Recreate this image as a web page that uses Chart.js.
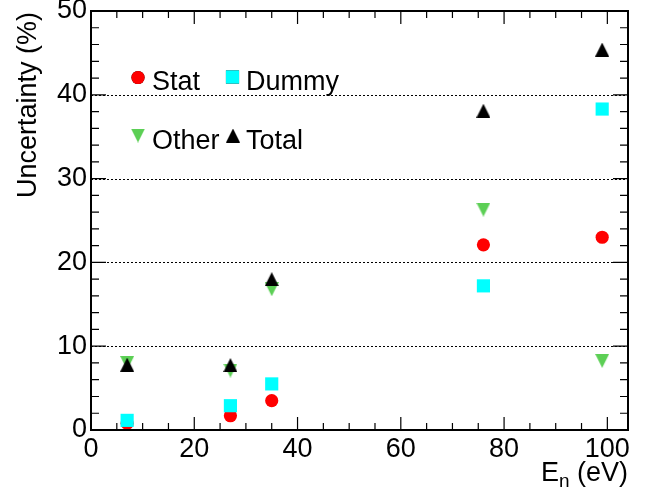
<!DOCTYPE html>
<html lang="en">
<head>
    <meta charset="UTF-8">
    <title>Uncertainty vs En</title>
    <script src="https://cdn.jsdelivr.net/npm/chart.js"></script>
    <style>
        body { margin: 0; background: #fff; }
        canvas { display: block; }
    </style>
</head>
<body>
    <canvas id="unc-chart" width="652" height="493"></canvas>

    <script>
        // values
        const energies = [7, 27, 35, 76, 99];
        const statUnc  = [0.8, 1.7, 3.5, 22.1, 23.0];
        const dummyUnc = [1.15, 2.9, 5.5, 17.2, 38.3];
        const otherUnc = [8.0, 7.1, 16.8, 26.3, 8.25];
        const totalUnc = [7.8, 7.75, 18.0, 38.1, 45.4];

        const xTickLabels = [0, 20, 40, 60, 80, 100];
        const yTickLabels = [0, 10, 20, 30, 40, 50];
        const seriesNames = ['Stat', 'Dummy', 'Other', 'Total'];

        const FONT = '27px "Liberation Sans", Arial, sans-serif';

        function pts(ys) {
            return energies.map((x, i) => ({ x: x, y: ys[i] }));
        }

        // ROOT triangles are a bit taller than equilateral, so build them as images
        function triangleImage(color, down) {
            const c = document.createElement('canvas');
            c.width = 14;
            c.height = 14;
            const g = c.getContext('2d');
            g.fillStyle = color;
            g.beginPath();
            if (down) {
                g.moveTo(0, 0); g.lineTo(14, 0); g.lineTo(7, 14);
            } else {
                g.moveTo(0, 14); g.lineTo(14, 14); g.lineTo(7, 0);
            }
            g.closePath();
            g.fill();
            return c;
        }

        const markers = {
            Stat:  { color: '#ff0000', pointStyle: 'circle', radius: 6.6 },
            Dummy: { color: '#00ffff', pointStyle: 'rect',   radius: 9.3 },
            Other: { color: '#5ccf55', pointStyle: triangleImage('#5ccf55', true),  radius: 7 },
            Total: { color: '#000000', pointStyle: triangleImage('#000000', false), radius: 7 }
        };

        function makeSet(name, ys, order) {
            const m = markers[name];
            return {
                label: name,
                data: pts(ys),
                order: order,
                pointStyle: m.pointStyle,
                pointRadius: m.radius,
                pointHoverRadius: m.radius,
                backgroundColor: m.color,
                borderColor: m.color,
                borderWidth: 0,
                showLine: false
            };
        }

        function drawMarker(ctx, name, x, y) {
            const m = markers[name];
            if (typeof m.pointStyle !== 'string') {
                const img = m.pointStyle;
                ctx.drawImage(img, x - img.width / 2, y - img.height / 2);
                return;
            }
            Chart.helpers.drawPoint(ctx, {
                pointStyle: m.pointStyle,
                radius: m.radius,
                rotation: 0,
                borderWidth: 0
            }, x, y);
            ctx.fillStyle = m.color;
            ctx.fill();
        }

        const rootStyle = {
            id: 'rootStyle',
            beforeDatasetsDraw(chart) {
                const ctx = chart.ctx;
                const area = chart.chartArea;
                const ys = chart.scales.y;
                // dotted horizontal grid
                ctx.save();
                ctx.strokeStyle = '#000';
                ctx.lineWidth = 1;
                ctx.setLineDash([2, 2]);
                yTickLabels.forEach(v => {
                    if (v === 0 || v === 50) return;
                    const py = Math.round(ys.getPixelForValue(v)) + 0.5;
                    ctx.beginPath();
                    ctx.moveTo(area.left, py);
                    ctx.lineTo(area.right, py);
                    ctx.stroke();
                });
                ctx.restore();
            },
            afterDraw(chart) {
                const ctx = chart.ctx;
                const area = chart.chartArea;
                const xs = chart.scales.x;
                const ys = chart.scales.y;
                ctx.save();
                ctx.strokeStyle = '#000';
                ctx.lineWidth = 1.2;
                ctx.setLineDash([]);

                // y ticks, left and right, pointing in
                for (let v = 0; v <= 50; v += 2) {
                    const py = ys.getPixelForValue(v);
                    const len = v % 10 === 0 ? 15 : 8;
                    ctx.beginPath();
                    ctx.moveTo(area.left, py); ctx.lineTo(area.left + len, py);
                    ctx.moveTo(area.right, py); ctx.lineTo(area.right - len, py);
                    ctx.stroke();
                }
                // x ticks, bottom and top
                for (let v = 0; v <= 104; v += 5) {
                    const px = xs.getPixelForValue(v);
                    const len = v % 20 === 0 ? 13 : 7;
                    ctx.beginPath();
                    ctx.moveTo(px, area.bottom); ctx.lineTo(px, area.bottom - len);
                    ctx.moveTo(px, area.top); ctx.lineTo(px, area.top + len);
                    ctx.stroke();
                }

                // frame
                ctx.lineWidth = 2;
                ctx.strokeRect(area.left, area.top, area.right - area.left, area.bottom - area.top);

                // axis titles
                ctx.fillStyle = '#000';
                ctx.font = FONT;
                ctx.save();
                ctx.translate(29, area.top + 1);
                ctx.rotate(-Math.PI / 2);
                ctx.textAlign = 'right';
                ctx.textBaseline = 'middle';
                ctx.fillText('Uncertainty (%)', 0, 0);
                ctx.restore();

                // E_n (eV), right aligned
                const subFont = '19px "Liberation Sans", Arial, sans-serif';
                ctx.textBaseline = 'alphabetic';
                ctx.textAlign = 'left';
                const wE = ctx.measureText('E').width;
                const wRest = ctx.measureText(' (eV)').width;
                ctx.font = subFont;
                const wN = ctx.measureText('n').width;
                const base = 481;
                const x0 = area.right - wE - wN - wRest;
                ctx.font = FONT;
                ctx.fillText('E', x0, base);
                ctx.font = subFont;
                ctx.fillText('n', x0 + wE, base + 6);
                ctx.font = FONT;
                ctx.fillText(' (eV)', x0 + wE + wN, base);

                // legend
                const legendPos = [
                    { mx: 138, my: 77.5, tx: 152, ty: 89.5 },
                    { mx: 232.5, my: 77, tx: 246, ty: 89.5 },
                    { mx: 138, my: 135.5, tx: 152, ty: 148.5 },
                    { mx: 233, my: 135.5, tx: 246, ty: 148.5 }
                ];
                seriesNames.forEach((name, i) => {
                    const p = legendPos[i];
                    drawMarker(ctx, name, p.mx, p.my);
                    ctx.fillStyle = '#000';
                    ctx.font = FONT;
                    ctx.fillText(name, p.tx, p.ty);
                });
                ctx.restore();
            }
        };

        new Chart(document.getElementById('unc-chart').getContext('2d'), {
            type: 'scatter',
            data: {
                datasets: [
                    makeSet('Stat', statUnc, 3),
                    makeSet('Dummy', dummyUnc, 2),
                    makeSet('Other', otherUnc, 1),
                    makeSet('Total', totalUnc, 0)
                ]
            },
            options: {
                responsive: false,
                animation: false,
                events: [],
                layout: {
                    autoPadding: false,
                    padding: { left: 0, right: 24, top: 11, bottom: 0 }
                },
                plugins: {
                    legend: { display: false },
                    tooltip: { enabled: false }
                },
                scales: {
                    x: {
                        type: 'linear',
                        min: 0,
                        max: 104,
                        afterFit(scale) {
                            scale.height = 63;
                            scale.paddingLeft = 0;
                            scale.paddingRight = 0;
                        },
                        afterBuildTicks(scale) {
                            scale.ticks = xTickLabels.map(v => ({ value: v }));
                        },
                        grid: { display: false, drawTicks: false },
                        border: { display: false },
                        ticks: {
                            padding: 3,
                            maxRotation: 0,
                            autoSkip: false,
                            color: '#000',
                            font: { family: '"Liberation Sans", Arial, sans-serif', size: 27 }
                        }
                    },
                    y: {
                        type: 'linear',
                        min: 0,
                        max: 50,
                        afterFit(scale) {
                            scale.width = 91;
                            scale.paddingTop = 0;
                            scale.paddingBottom = 0;
                        },
                        afterBuildTicks(scale) {
                            scale.ticks = yTickLabels.map(v => ({ value: v }));
                        },
                        grid: { display: false, drawTicks: false },
                        border: { display: false },
                        ticks: {
                            padding: 4,
                            autoSkip: false,
                            color: '#000',
                            font: { family: '"Liberation Sans", Arial, sans-serif', size: 27 }
                        }
                    }
                }
            },
            plugins: [rootStyle]
        });
    </script>
</body>
</html>
